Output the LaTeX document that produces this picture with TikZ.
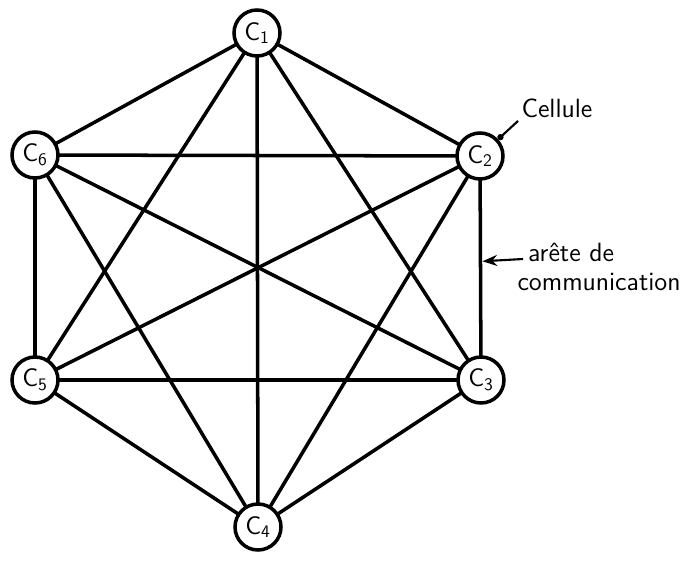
\documentclass[tikz,border=0pt]{standalone}
\usetikzlibrary{arrows.meta,positioning,calc}

\begin{document}
\begin{tikzpicture}[x=0.02cm, y=-0.02cm, line width=2pt, >=Stealth,
    cell/.style={draw, circle, fill=white, minimum size=0.92cm, inner sep=0pt, font=\sffamily\Large},
    edge/.style={line width=2pt},
    note/.style={font=\sffamily\fontsize{15}{16}\selectfont, align=left, inner sep=1pt}]
  \useasboundingbox (0,0) rectangle (695,561);
  % every pair of cells is linked
  \coordinate (p1) at (257,33);
  \coordinate (p2) at (480,156);
  \coordinate (p3) at (481,380);
  \coordinate (p4) at (258,527);
  \coordinate (p5) at (35,380);
  \coordinate (p6) at (35,155);
  \foreach \a/\others in {1/{2,3,4,5,6}, 2/{3,4,5,6}, 3/{4,5,6}, 4/{5,6}, 5/{6}}
    \foreach \b in \others
      \draw[edge] (p\a) -- (p\b);
  % the six cells
  \foreach \i in {1,...,6}
    \node[cell] (c\i) at (p\i) {C\textsubscript{\i}};
  % labels
  \node[note, anchor=west] (cel) at (518,108) {Cellule};
  \draw[line width=1.2pt, -{Circle[length=3.5pt]}] (cel.south west) -- (c2);
  \coordinate (ed) at ($(p2)!0.47!(p3)$);
  \node[note, anchor=north west] (are) at (514,240) {\hspace*{0.4em}arête de\\communication};
  \coordinate (ae) at ($(are.north west)+(9,19)$);
  \draw[line width=1.2pt, ->] (ae) -- ($(ed)+(2,0)$);
\end{tikzpicture}
\end{document}
